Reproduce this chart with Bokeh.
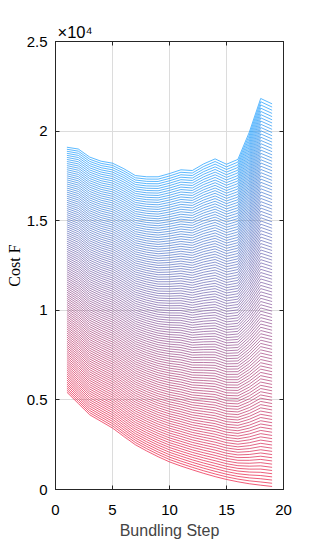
import numpy as np
from bokeh.plotting import figure
from bokeh.models import ColumnDataSource, LinearAxis, FixedTicker, Range1d
from bokeh.embed import file_html
from bokeh.resources import INLINE

# ---- data ----
steps = list(range(1, 20))
top_cost = [19100, 19000, 18550, 18320, 18210, 17900, 17520, 17450, 17450, 17630,
            17840, 17800, 18170, 18450, 18150, 18420, 19940, 21820, 21520]
base_cost = [5430, 4800, 4170, 3800, 3430, 2960, 2500, 2150, 1830, 1540,
             1310, 1100, 900, 720, 560, 430, 320, 240, 170]
n_lines = 121
weights = np.linspace(0.0, 1.0, n_lines)

x_ticks = [0, 5, 10, 15, 20]
y_ticks = [0, 5000, 10000, 15000, 20000, 25000]
y_tick_labels = ["0", "0.5", "1", "1.5", "2", "2.5"]

red_rgb = (235, 20, 60)
blue_rgb = (20, 155, 255)

top = np.array(top_cost, dtype=float)
base = np.array(base_cost, dtype=float)
xs, ys, colors = [], [], []
for w in weights:
    xs.append(steps)
    ys.append(list(base + w * (top - base)))
    r = int(round(red_rgb[0] + w * (blue_rgb[0] - red_rgb[0])))
    g = int(round(red_rgb[1] + w * (blue_rgb[1] - red_rgb[1])))
    b = int(round(red_rgb[2] + w * (blue_rgb[2] - red_rgb[2])))
    colors.append("#%02x%02x%02x" % (r, g, b))
src = ColumnDataSource(dict(xs=xs, ys=ys, color=colors))

AX = "#262626"
FONT = "Liberation Sans"
FS = "15px"

p = figure(width=299, height=542, x_range=Range1d(0, 20), y_range=Range1d(0, 25000),
           output_backend="svg", toolbar_location=None,
           min_border_left=55, min_border_right=16, min_border_top=41,
           min_border_bottom=53)
p.outline_line_color = AX
p.outline_line_width = 1
p.background_fill_color = "white"
p.border_fill_color = "white"

p.multi_line(xs="xs", ys="ys", line_color="color", line_width=0.7, source=src)

for ax in (p.xaxis[0], p.yaxis[0]):
    ax.major_tick_in = 4
    ax.major_tick_out = 0
    ax.minor_tick_line_color = None
    ax.axis_line_color = AX
    ax.major_tick_line_color = AX
    ax.major_label_text_font = FONT
    ax.major_label_text_font_size = FS
    ax.major_label_text_color = "black"

p.xaxis[0].ticker = FixedTicker(ticks=x_ticks)
p.xaxis[0].major_label_standoff = 15
p.xaxis[0].axis_label = "Bundling Step"
p.xaxis[0].axis_label_text_font = FONT
p.xaxis[0].axis_label_text_font_size = "16px"
p.xaxis[0].axis_label_text_font_style = "normal"
p.xaxis[0].axis_label_standoff = 4

p.yaxis[0].ticker = FixedTicker(ticks=y_ticks)
p.yaxis[0].major_label_overrides = {t: l for t, l in zip(y_ticks, y_tick_labels)}
p.yaxis[0].major_label_standoff = 8
p.yaxis[0].axis_label = "Cost F"
p.yaxis[0].axis_label_text_font = "Liberation Serif"
p.yaxis[0].axis_label_text_font_size = "16px"
p.yaxis[0].axis_label_text_font_style = "normal"
p.yaxis[0].axis_label_text_color = "black"
p.yaxis[0].axis_label_standoff = 1

# mirrored tick marks on the top and right edges (no labels drawn)
right_ax = LinearAxis(ticker=FixedTicker(ticks=y_ticks), major_label_text_font_size="0px",
                      major_label_text_color=None,
                      major_tick_in=4, major_tick_out=0, minor_tick_line_color=None,
                      axis_line_color=AX, major_tick_line_color=AX, major_label_standoff=0)
top_ax = LinearAxis(ticker=FixedTicker(ticks=x_ticks), major_label_text_font_size="0px",
                    major_label_text_color=None,
                    major_tick_in=4, major_tick_out=0, minor_tick_line_color=None,
                    axis_line_color=AX, major_tick_line_color=AX, major_label_standoff=0)
p.add_layout(right_ax, "right")
p.add_layout(top_ax, "above")

p.xgrid.ticker = FixedTicker(ticks=x_ticks)
p.ygrid.ticker = FixedTicker(ticks=y_ticks)
p.xgrid.grid_line_color = "#dcdcdc"
p.ygrid.grid_line_color = "#dcdcdc"

# exponent label  x10^4 as the plot title
p.title.text = "×10⁴"
p.title.text_font = FONT
p.title.text_font_size = "16.5px"
p.title.text_font_style = "normal"
p.title.text_color = "black"
p.title.align = "left"
p.title.offset = 2
p.title.standoff = 2

open("out.html", "w").write(file_html(p, INLINE))
